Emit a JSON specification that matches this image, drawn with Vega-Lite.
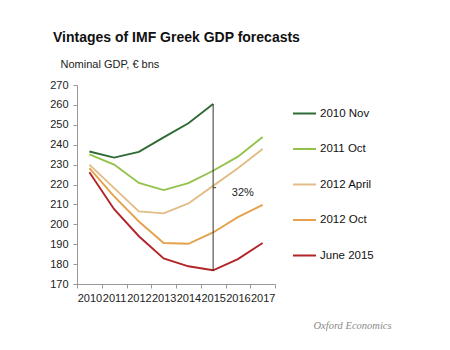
{
  "$schema": "https://vega.github.io/schema/vega-lite/v6.json",
  "width": 198,
  "height": 199,
  "autosize": "none",
  "padding": {"left": 77, "top": 85, "right": 175, "bottom": 66},
  "background": "white",
  "title": {
    "text": "Vintages of IMF Greek GDP forecasts",
    "anchor": "start",
    "frame": "group",
    "font": "Liberation Sans",
    "fontSize": 14,
    "fontWeight": "bold",
    "color": "#111111",
    "dx": -24,
    "offset": 13
  },
  "config": {
    "view": {"stroke": null},
    "font": "Liberation Sans",
    "axisY": {"labelOverlap": false, "tickCount": 11, "labelFontSize": 11, "labelColor": "#222222", "tickColor": "#999999", "domainColor": "#999999", "tickSize": 4, "labelPadding": 5, "grid": false},
    "axisX": {"labelOverlap": false, "labelFontSize": 11, "labelColor": "#222222", "tickColor": "#999999", "domainColor": "#999999", "tickSize": 4, "labelPadding": 4, "labelAngle": 0, "tickBand": "extent", "grid": false}
  },
  "datasets": {
    "series": [
      {"series": "2010 Nov", "year": "2010", "value": 236.6},
      {"series": "2010 Nov", "year": "2011", "value": 233.5},
      {"series": "2010 Nov", "year": "2012", "value": 236.4},
      {"series": "2010 Nov", "year": "2013", "value": 243.7},
      {"series": "2010 Nov", "year": "2014", "value": 250.8},
      {"series": "2010 Nov", "year": "2015", "value": 260.5},
      {"series": "2011 Oct", "year": "2010", "value": 235.2},
      {"series": "2011 Oct", "year": "2011", "value": 230.0},
      {"series": "2011 Oct", "year": "2012", "value": 220.8},
      {"series": "2011 Oct", "year": "2013", "value": 217.2},
      {"series": "2011 Oct", "year": "2014", "value": 220.7},
      {"series": "2011 Oct", "year": "2015", "value": 226.9},
      {"series": "2011 Oct", "year": "2016", "value": 234.0},
      {"series": "2011 Oct", "year": "2017", "value": 243.9},
      {"series": "2012 April", "year": "2010", "value": 230.0},
      {"series": "2012 April", "year": "2011", "value": 218.2},
      {"series": "2012 April", "year": "2012", "value": 206.5},
      {"series": "2012 April", "year": "2013", "value": 205.5},
      {"series": "2012 April", "year": "2014", "value": 210.5},
      {"series": "2012 April", "year": "2015", "value": 219.3},
      {"series": "2012 April", "year": "2016", "value": 228.2},
      {"series": "2012 April", "year": "2017", "value": 237.9},
      {"series": "2012 Oct", "year": "2010", "value": 228.2},
      {"series": "2012 Oct", "year": "2011", "value": 214.0},
      {"series": "2012 Oct", "year": "2012", "value": 201.4},
      {"series": "2012 Oct", "year": "2013", "value": 190.6},
      {"series": "2012 Oct", "year": "2014", "value": 190.2},
      {"series": "2012 Oct", "year": "2015", "value": 195.9},
      {"series": "2012 Oct", "year": "2016", "value": 203.6},
      {"series": "2012 Oct", "year": "2017", "value": 209.8},
      {"series": "June 2015", "year": "2010", "value": 226.2},
      {"series": "June 2015", "year": "2011", "value": 207.6},
      {"series": "June 2015", "year": "2012", "value": 194.0},
      {"series": "June 2015", "year": "2013", "value": 182.8},
      {"series": "June 2015", "year": "2014", "value": 178.9},
      {"series": "June 2015", "year": "2015", "value": 176.9},
      {"series": "June 2015", "year": "2016", "value": 182.5},
      {"series": "June 2015", "year": "2017", "value": 190.6}
    ],
    "gap": [
      {"year": "2015", "top": 260.5, "bottom": 176.5, "mid": 218.4, "label": "32%", "labelYear": "2016", "labelValue": 215.7}
    ]
  },
  "layer": [
    {
      "data": {"name": "series"},
      "mark": {"type": "line", "strokeWidth": 1.9},
      "encoding": {
        "x": {
          "field": "year",
          "type": "ordinal",
          "scale": {"type": "band", "domain": ["2010","2011","2012","2013","2014","2015","2016","2017"], "paddingInner": 0, "paddingOuter": 0},
          "axis": {
            "title": "Oxford Economics",
            "titleFont": "Liberation Serif",
            "titleFontStyle": "italic",
            "titleFontWeight": "normal",
            "titleFontSize": 10.5,
            "titleColor": "#8a8a8a",
            "titleX": 236,
            "titleY": 36,
            "titleAlign": "left",
            "titleAnchor": null
          }
        },
        "y": {
          "field": "value",
          "type": "quantitative",
          "scale": {"domain": [170, 270], "nice": false, "zero": false},
          "axis": {
            "title": "Nominal  GDP, \u20ac bns",
            "titleAngle": 0,
            "titleX": -17,
            "titleY": -18,
            "titleAlign": "left",
            "titleBaseline": "alphabetic",
            "titleFontSize": 11,
            "titleFontWeight": "normal",
            "titleColor": "#222222",
            "values": [170,180,190,200,210,220,230,240,250,260,270],
            "labelOverlap": false
          }
        },
        "color": {
          "field": "series",
          "type": "nominal",
          "scale": {
            "domain": ["2010 Nov", "2011 Oct", "2012 April", "2012 Oct", "June 2015"],
            "range": ["#2d6a34", "#93c24c", "#e2bd88", "#e4a24c", "#b22428"]
          },
          "legend": {
            "title": null,
            "orient": "none",
            "legendX": 215,
            "legendY": 16,
            "symbolType": "stroke",
            "symbolSize": 529,
            "symbolStrokeWidth": 2,
            "rowPadding": 17.5,
            "labelFontSize": 11.5,
            "labelColor": "#111111",
            "labelOffset": 3,
            "padding": 0
          }
        },
        "detail": {"field": "series"}
      }
    },
    {
      "data": {"name": "gap"},
      "mark": {"type": "rule", "color": "#333333", "strokeWidth": 1},
      "encoding": {
        "x": {"field": "year", "type": "ordinal"},
        "y": {"field": "top", "type": "quantitative", "axis": {"values": [170,180,190,200,210,220,230,240,250,260,270], "labelOverlap": false}},
        "y2": {"field": "bottom"}
      }
    },
    {
      "data": {"name": "gap"},
      "mark": {"type": "point", "shape": "M0,0H1", "size": 36, "stroke": "#333333", "strokeWidth": 1, "filled": false, "opacity": 1},
      "encoding": {
        "x": {"field": "year", "type": "ordinal"},
        "y": {"field": "mid", "type": "quantitative", "axis": {"values": [170,180,190,200,210,220,230,240,250,260,270], "labelOverlap": false}}
      }
    },
    {
      "data": {"name": "gap"},
      "mark": {"type": "text", "fontSize": 11, "color": "#222222", "dx": 5},
      "encoding": {
        "x": {"field": "labelYear", "type": "ordinal"},
        "y": {"field": "labelValue", "type": "quantitative", "axis": {"values": [170,180,190,200,210,220,230,240,250,260,270], "labelOverlap": false}},
        "text": {"field": "label"}
      }
    }
  ]
}
